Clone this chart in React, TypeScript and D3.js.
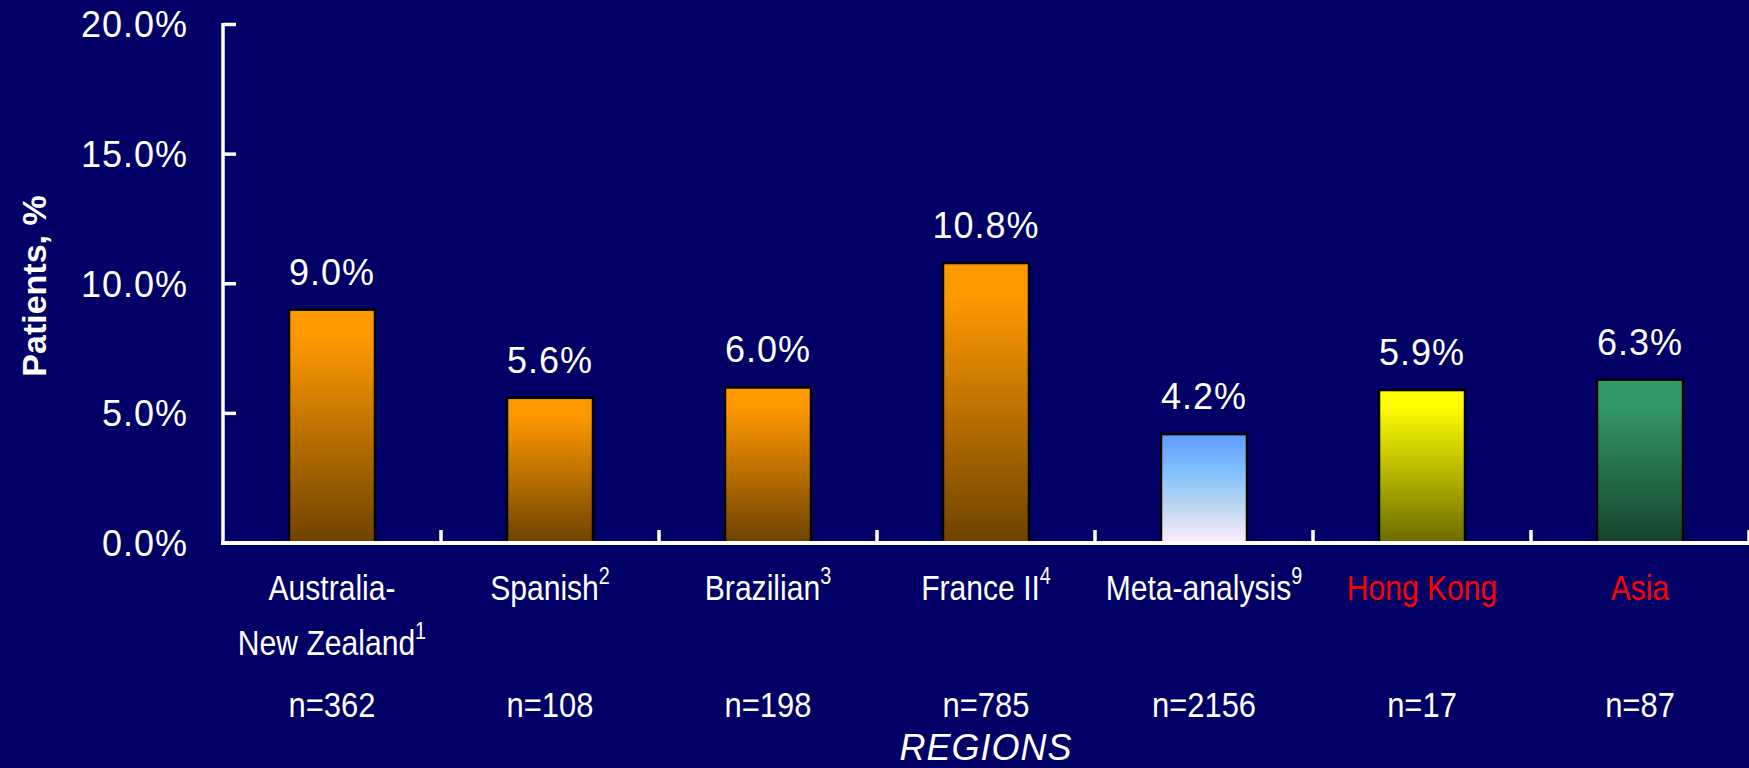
import React from "react";
import * as d3 from "d3";

// ---------- data ----------
const categories = ["Australia-New Zealand", "Spanish", "Brazilian", "France II", "Meta-analysis", "Hong Kong", "Asia"];
const categoryLines = [["Australia-", "New Zealand"], ["Spanish"], ["Brazilian"], ["France II"], ["Meta-analysis"], ["Hong Kong"], ["Asia"]];
const referenceMarks = ["1", "2", "3", "4", "9", "", ""];
const values = [9.0, 5.6, 6.0, 10.8, 4.2, 5.9, 6.3];
const sampleSizes = ["n=362", "n=108", "n=198", "n=785", "n=2156", "n=17", "n=87"];
const groups = ["study", "study", "study", "study", "meta", "local", "asia"];
const yTicks = [0, 5, 10, 15, 20];
const yLabel = "Patients, %";
const xLabel = "REGIONS";

// ---------- styling ----------
const W = 1749;
const H = 768;
const BG = "#000066";
const FONT = "'Liberation Sans', Arial, Helvetica, sans-serif";
const gradientStops: Record<string, [number, string][]> = {
  study: [[0, "#FF9900"], [0.12, "#FF9900"], [1, "#6E4200"]],
  meta: [[0, "#5F9BFF"], [0.35, "#80C2FF"], [0.7, "#C4D8F0"], [1, "#FFEEFF"]],
  local: [[0, "#FFFF00"], [0.1, "#FFFF00"], [1, "#6B6A00"]],
  asia: [[0, "#339966"], [0.15, "#339966"], [1, "#15442C"]],
};
const labelColor: Record<string, string> = { study: "#FFFFFF", meta: "#FFFFFF", local: "#FF0000", asia: "#FF0000" };

export default function App() {
  const x = d3.scaleBand<string>().domain(categories).range([223, W]).paddingInner(0.6055).paddingOuter(0.30275);
  const y = d3.scaleLinear().domain([0, 20]).range([543, 24.5]);
  const step = x.step();
  const bw = x.bandwidth();
  const fmt = (v: number) => d3.format(".1f")(v) + "%";
  const condense = 0.86;

  return (
    <svg width={W} height={H} style={{ position: "fixed", left: 0, top: 0, display: "block" }} fontFamily={FONT}>
      <defs>
        {Object.entries(gradientStops).map(([k, stops]) => (
          <linearGradient key={k} id={`grad-${k}`} x1="0" y1="0" x2="0" y2="1">
            {stops.map(([o, c], i) => (
              <stop key={i} offset={o} stopColor={c} />
            ))}
          </linearGradient>
        ))}
      </defs>
      <rect x={0} y={0} width={W} height={H} fill={BG} />

      {/* y-axis */}
      <line x1={223} x2={223} y1={y(20) - 1.5} y2={y(0) + 2} stroke="#fff" strokeWidth={3.5} />
      {yTicks.map((t) => (
        <g key={t}>
          {t > 0 && <line x1={223} x2={236} y1={y(t)} y2={y(t)} stroke="#fff" strokeWidth={3.5} />}
          <text x={188} y={y(t)} dy="0.36em" textAnchor="end" fill="#fff" fontSize={36} letterSpacing={1}>
            {fmt(t)}
          </text>
        </g>
      ))}
      <text transform={`translate(46, 286) rotate(-90)`} textAnchor="middle" fill="#fff" fontSize={34} fontWeight="bold">
        {yLabel}
      </text>

      {/* bars */}
      {categories.map((c, i) => (
        <g key={c}>
          <rect
            x={x(c)!}
            y={y(values[i])}
            width={bw}
            height={y(0) - y(values[i])}
            fill={`url(#grad-${groups[i]})`}
            stroke="#000"
            strokeWidth={2.5}
          />
          <text x={x(c)! + bw / 2} y={y(values[i]) - 25} textAnchor="middle" fill="#fff" fontSize={36} letterSpacing={1}>
            {fmt(values[i])}
          </text>
        </g>
      ))}

      {/* x-axis */}
      <line x1={221} x2={W} y1={y(0)} y2={y(0)} stroke="#fff" strokeWidth={4} />
      {categories.map((c) => {
        const bx = x(c)! + bw / 2 + step / 2;
        return <line key={c} x1={bx} x2={bx} y1={y(0)} y2={y(0) - 13} stroke="#fff" strokeWidth={3.5} />;
      })}

      {/* category labels */}
      {categories.map((c, i) => {
        const cx = x(c)! + bw / 2;
        const lines = categoryLines[i];
        return (
          <g key={c} transform={`translate(${cx},0) scale(${condense},1)`}>
            {lines.map((ln, j) => (
              <text key={j} x={0} y={600 + j * 55} textAnchor="middle" fill={labelColor[groups[i]]} fontSize={35}>
                {ln}
                {j === lines.length - 1 && referenceMarks[i] && (
                  <tspan fontSize={23} dy={-16}>
                    {referenceMarks[i]}
                  </tspan>
                )}
              </text>
            ))}
            <text x={0} y={717} textAnchor="middle" fill="#fff" fontSize={36}>
              {sampleSizes[i]}
            </text>
          </g>
        );
      })}

      <text x={(223 + W) / 2} y={760} textAnchor="middle" fill="#fff" fontSize={36} fontStyle="italic" letterSpacing={1}>
        {xLabel}
      </text>
    </svg>
  );
}
